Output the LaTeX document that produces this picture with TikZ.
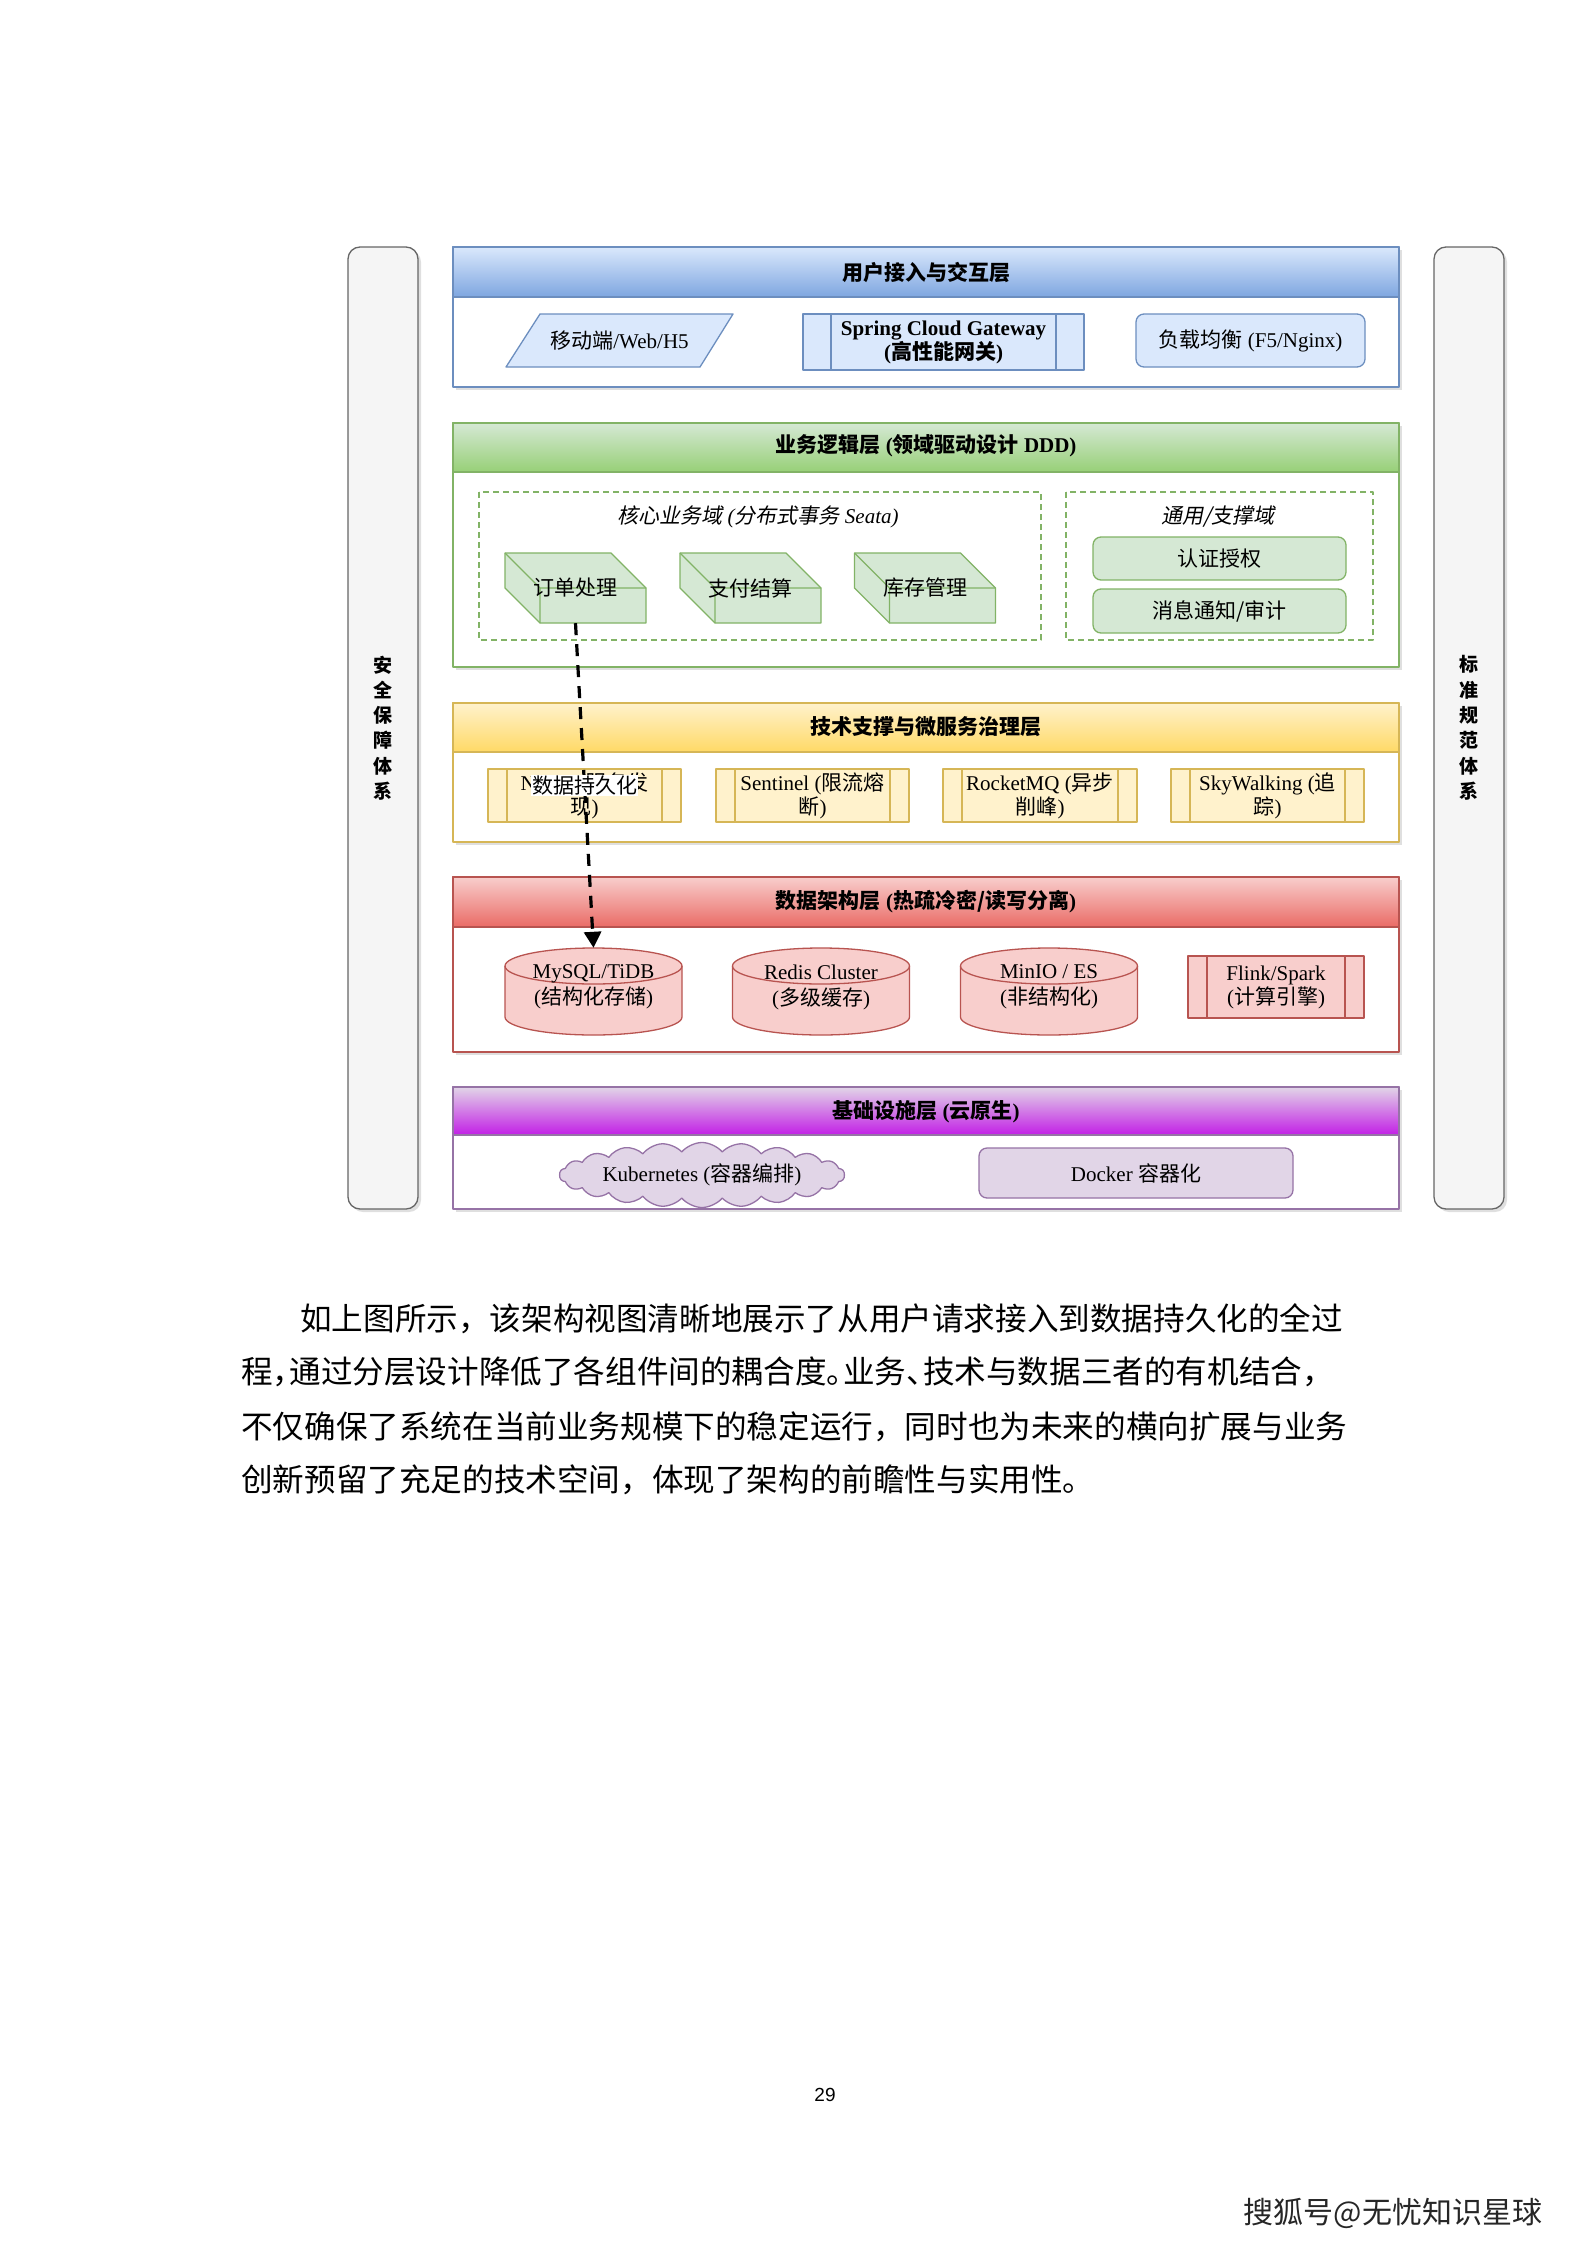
\documentclass[tikz,border=0pt]{standalone}
\usepackage{fontspec}
\setmainfont{Liberation Serif}
\newfontfamily\cjk{Noto Sans CJK SC}
\newfontfamily\cjkit[FakeSlant=0.2]{Noto Sans CJK SC}
\newfontfamily\pagefont{Liberation Sans}
\newcommand{\zh}[1]{{\cjk #1}}
\usetikzlibrary{arrows.meta,shadows,shapes.symbols}

\definecolor{accFill}{HTML}{DAE8FC}
\definecolor{accLine}{HTML}{6C8EBF}
\definecolor{accBot}{HTML}{7EA6E0}
\definecolor{bizFill}{HTML}{D5E8D4}
\definecolor{bizLine}{HTML}{82B366}
\definecolor{bizBot}{HTML}{97D077}
\definecolor{techFill}{HTML}{FFF2CC}
\definecolor{techLine}{HTML}{D6B656}
\definecolor{techBot}{HTML}{FFD966}
\definecolor{dataFill}{HTML}{F8CECC}
\definecolor{dataLine}{HTML}{B85450}
\definecolor{dataBot}{HTML}{EA6B66}
\definecolor{infraFill}{HTML}{E1D5E7}
\definecolor{infraLine}{HTML}{9673A6}
\definecolor{infraBot}{HTML}{C21FE6}
\definecolor{barFill}{HTML}{F5F5F5}
\definecolor{barLine}{HTML}{666666}

\begin{document}
\begin{tikzpicture}[
  x=1pt, y=-1pt,
  line join=round,
  font=\fontsize{21}{24}\selectfont,
  lane/.style={draw=#1, fill=white, line width=1.3pt,
    drop shadow={shadow xshift=3pt, shadow yshift=-3pt, opacity=0.25}},
  headline/.style={draw=#1, line width=1.3pt},
  lanetitle/.style={font=\fontsize{21}{24}\selectfont\bfseries, inner sep=0pt},
  compbox/.style 2 args={draw=#1, fill=#2, line width=1.3pt, align=center, inner sep=1pt},
  roundbox/.style 2 args={compbox={#1}{#2}, rounded corners=8pt},
  procbox/.style n args={3}{compbox={#1}{#2},
    path picture={\draw[draw=#1, line width=1.3pt]
      ([xshift=#3]path picture bounding box.north west) -- ([xshift=#3]path picture bounding box.south west)
      ([xshift=-#3]path picture bounding box.north east) -- ([xshift=-#3]path picture bounding box.south east);}},
  shapeline/.style 2 args={draw=#1, fill=#2, line width=1.3pt},
  zone/.style={draw=bizLine, line width=1.3pt, dash pattern=on 6pt off 4pt},
  zonetitle/.style={font=\fontsize{21}{24}\selectfont\itshape, inner sep=0pt},
  plaintext/.style={align=center, inner sep=0pt},
  cubenode/.style={minimum width=141pt, minimum height=70pt, inner sep=0pt},
  dbnode/.style={minimum width=177pt, minimum height=78pt, inner sep=0pt, align=center,
    font=\fontsize{21}{26}\selectfont},
  sidebar/.style={draw=barLine, fill=barFill, line width=1.3pt, rounded corners=12pt,
    minimum width=70pt, minimum height=962pt, align=center,
    font=\fontsize{19}{25.3}\selectfont\cjk\bfseries,
    drop shadow={shadow xshift=3pt, shadow yshift=-3pt, opacity=0.25}},
  flow/.style={-{Triangle[length=16pt,width=17pt]}, line width=3.2pt, dash pattern=on 12pt off 9pt},
  flowlabel/.style={fill=white, inner sep=1pt, font=\fontsize{21}{24}\selectfont\cjk},
  paraline/.style={anchor=west, inner sep=0pt, font=\fontsize{31.6}{40}\selectfont\cjk}
]

% Page.
\fill[white] (0,0) rectangle (1587,2245);
\useasboundingbox (0,0) rectangle (1587,2245);

% Side pillars.
\node[sidebar] (secBar) at (383,728) {安\\全\\保\\障\\体\\系};
\node[sidebar] (stdBar) at (1469,728) {标\\准\\规\\范\\体\\系};

% Access layer.
\draw[lane=accLine] (453,247) rectangle (1399,387);
\shade[top color=accFill, bottom color=accBot] (453,247) rectangle (1399,297);
\draw[headline=accLine] (453,247) rectangle (1399,297);
\node[lanetitle] (accTitle) at (926,272) {\zh{用户接入与交互层}};

\path[shapeline={accLine}{accFill}] (506,367) -- (540,314) -- (733,314) -- (700,367) -- cycle;
\node[plaintext] (mobile) at (619.5,340.5) {\zh{移动端}/Web/H5};
\node[procbox={accLine}{accFill}{28pt}, minimum width=281pt, minimum height=56pt,
  font=\fontsize{21}{24}\selectfont\bfseries] (gateway) at (943.5,342)
  {Spring Cloud Gateway\\(\zh{高性能网关})};
\node[roundbox={accLine}{accFill}, minimum width=229pt, minimum height=53pt] (balancer)
  at (1250.5,340.5) {\zh{负载均衡} (F5/Nginx)};

% Business layer.
\draw[lane=bizLine] (453,423) rectangle (1399,667);
\shade[top color=bizFill, bottom color=bizBot] (453,423) rectangle (1399,472);
\draw[headline=bizLine] (453,423) rectangle (1399,472);
\node[lanetitle] (bizTitle) at (926,446) {\zh{业务逻辑层} (\zh{领域驱动设计} DDD)};

\draw[zone] (479,492) rectangle (1041,640);
\node[zonetitle] (coreTitle) at (758,517) {{\cjkit 核心业务域} ({\cjkit 分布式事务} Seata)};
\foreach \cx/\nm/\txt in {575.5/order/订单处理, 750.5/payment/支付结算, 925/stock/库存管理}{
  \path[shapeline={bizLine}{bizFill}] (\cx-70.5,553) -- (\cx+35.5,553) -- (\cx+70.5,588)
    -- (\cx+70.5,623) -- (\cx-35.5,623) -- (\cx-70.5,588) -- cycle;
  \draw[bizLine, line width=1.3pt] (\cx-70.5,553) -- (\cx-35.5,588) -- (\cx+70.5,588)
    (\cx-35.5,588) -- (\cx-35.5,623);
  \node[cubenode] (\nm) at (\cx,588) {\zh{\txt}};
}

\draw[zone] (1066,492) rectangle (1373,640);
\node[zonetitle] (supportTitle) at (1218,517) {{\cjkit 通用/支撑域}};
\node[roundbox={bizLine}{bizFill}, minimum width=253pt, minimum height=43pt] (auth)
  at (1219.5,558.5) {\zh{认证授权}};
\node[roundbox={bizLine}{bizFill}, minimum width=253pt, minimum height=44pt] (notify)
  at (1219.5,611) {\zh{消息通知/审计}};

% Technical support layer.
\draw[lane=techLine] (453,703) rectangle (1399,842);
\shade[top color=techFill, bottom color=techBot] (453,703) rectangle (1399,752);
\draw[headline=techLine] (453,703) rectangle (1399,752);
\node[lanetitle] (techTitle) at (926,727) {\zh{技术支撑与微服务治理层}};

\node[procbox={techLine}{techFill}{19pt}, minimum width=193pt, minimum height=53pt] (nacos)
  at (584.5,795.5) {Nacos (\zh{服务发}\\\zh{现})};
\node[procbox={techLine}{techFill}{19pt}, minimum width=193pt, minimum height=53pt] (sentinel)
  at (812.5,795.5) {Sentinel (\zh{限流熔}\\\zh{断})};
\node[procbox={techLine}{techFill}{19pt}, minimum width=194pt, minimum height=53pt] (rocketmq)
  at (1040,795.5) {RocketMQ (\zh{异步}\\\zh{削峰})};
\node[procbox={techLine}{techFill}{19pt}, minimum width=193pt, minimum height=53pt] (skywalking)
  at (1267.5,795.5) {SkyWalking (\zh{追}\\\zh{踪})};

% Data layer.
\draw[lane=dataLine] (453,877) rectangle (1399,1052);
\shade[top color=dataFill, bottom color=dataBot] (453,877) rectangle (1399,927);
\draw[headline=dataLine] (453,877) rectangle (1399,927);
\node[lanetitle] (dataTitle) at (926,902) {\zh{数据架构层} (\zh{热疏冷密/读写分离})};

\foreach \cx in {593.5,821,1049}{
  \path[shapeline={dataLine}{dataFill}] (\cx-88.5,966) -- (\cx-88.5,1017)
    arc[start angle=180, end angle=0, x radius=88.5, y radius=18] -- (\cx+88.5,966)
    arc[start angle=0, end angle=-180, x radius=88.5, y radius=18] -- cycle;
  \draw[dataLine, line width=1.3pt] (\cx-88.5,966)
    arc[start angle=180, end angle=0, x radius=88.5, y radius=18];
}
\node[dbnode] (mysql) at (593.5,987) {MySQL/TiDB\\(\zh{结构化存储})};
\node[dbnode] (redis) at (821,987) {Redis Cluster\\(\zh{多级缓存})};
\node[dbnode] (minio) at (1049,987) {MinIO / ES\\(\zh{非结构化})};
\node[procbox={dataLine}{dataFill}{19pt}, minimum width=176pt, minimum height=62pt] (flink)
  at (1276,987) {Flink/Spark\\(\zh{计算引擎})};

% Infrastructure layer.
\draw[lane=infraLine] (453,1087) rectangle (1399,1209);
\shade[top color=infraFill, bottom color=infraBot] (453,1087) rectangle (1399,1135);
\draw[headline=infraLine] (453,1087) rectangle (1399,1135);
\node[lanetitle] (infraTitle) at (926,1112) {\zh{基础设施层} (\zh{云原生})};

\node[cloud, cloud puffs=22, cloud puff arc=100, aspect=6, draw=infraLine, fill=infraFill,
  line width=1.3pt, inner sep=0pt, minimum width=285pt, minimum height=50pt] (k8s)
  at (702,1175) {Kubernetes (\zh{容器编排})};
\node[roundbox={infraLine}{infraFill}, minimum width=314pt, minimum height=50pt] (docker)
  at (1136,1173) {Docker \zh{容器化}};

% Persistence path.
\draw[flow] (order.south) -- node[flowlabel] (persistLabel) {数据持久化} (mysql.north);

% Body text.
\node[paraline] (line1) at (300,1319) {如上图所示，该架构视图清晰地展示了从用户请求接入到数据持久化的全过};
\node[paraline] (line2) at (241,1372) {程，\kern-15pt 通过分层设计降低了各组件间的耦合度。\kern-15pt 业务、\kern-15pt 技术与数据三者的有机结合，};
\node[paraline] (line3) at (241,1427) {不仅确保了系统在当前业务规模下的稳定运行，同时也为未来的横向扩展与业务};
\node[paraline] (line4) at (241,1480) {创新预留了充足的技术空间，体现了架构的前瞻性与实用性。};

\node[font=\fontsize{19}{22}\selectfont\pagefont] (pageNo) at (825,2095) {29};
\node[font=\fontsize{30}{34}\selectfont\cjk, text=black!85] (sohuMark) at (1393,2213) {搜狐号@无忧知识星球};

\end{tikzpicture}
\end{document}
